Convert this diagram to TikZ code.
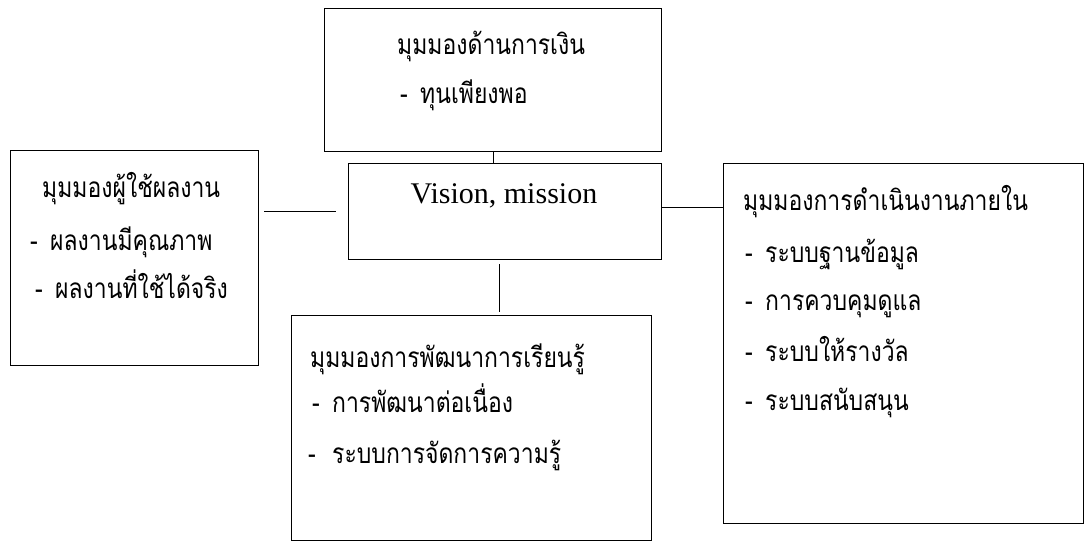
\documentclass[tikz,border=0pt]{standalone}
\usepackage{fontspec}
\setmainfont{Liberation Serif}
\newfontfamily\thaifont[Script=Thai,FakeStretch=0.82]{Loma}
\newcommand\itm[2][20pt]{\makebox[#1][l]{-}#2}
\begin{document}
\begin{tikzpicture}[x=1pt,y=-1pt,
  box/.style={draw, line width=1.3pt, anchor=north west, inner sep=0pt},
  link/.style={line width=1.3pt},
  th/.style={anchor=base west, inner sep=0pt, font=\thaifont\fontsize{28}{28}\selectfont},
  lat/.style={anchor=base, inner sep=0pt, font=\fontsize{30}{30}\selectfont}]
\useasboundingbox (0,0) rectangle (1087,543);
% boxes
\node[box, minimum width=337pt, minimum height=143pt] (fin) at (324,8) {};
\node[box, minimum width=313pt, minimum height=96pt] (vis) at (348,163) {};
\node[box, minimum width=248pt, minimum height=215pt] (cus) at (10,150) {};
\node[box, minimum width=360pt, minimum height=360pt] (int) at (723,163) {};
\node[box, minimum width=360pt, minimum height=225pt] (lrn) at (291,315) {};
% connectors
\draw[link] (fin.south) -- (fin.south |- vis.north);
\draw[link] ([yshift=4pt]vis.east) -- ([yshift=4pt]vis.east -| int.west);
\draw[link] ([xshift=5pt]cus.east |- vis.east) -- ([xshift=-12pt]vis.west);
\draw[link] ([xshift=-6pt,yshift=-4pt]vis.south) -- ([xshift=-6pt,yshift=3pt]vis.south |- lrn.north);
% texts
\node[th] (finT) at (397,55) {มุมมองด้านการเงิน};
\node[th] (finA) at (400,103) {\itm{ทุนเพียงพอ}};
\node[lat] (visT) at (504,203) {Vision, mission};
\node[th] (cusT) at (42,197) {มุมมองผู้ใช้ผลงาน};
\node[th] (cusA) at (30,250) {\itm{ผลงานมีคุณภาพ}};
\node[th] (cusB) at (35,298) {\itm{ผลงานที่ใช้ได้จริง}};
\node[th] (intT) at (743,210) {มุมมองการดำเนินงานภายใน};
\node[th] (intA) at (745,262) {\itm{ระบบฐานข้อมูล}};
\node[th] (intB) at (745,310) {\itm{การควบคุมดูแล}};
\node[th] (intC) at (745,361) {\itm{ระบบให้รางวัล}};
\node[th] (intD) at (745,410) {\itm{ระบบสนับสนุน}};
\node[th] (lrnT) at (310,367) {มุมมองการพัฒนาการเรียนรู้};
\node[th] (lrnA) at (312,412) {\itm{การพัฒนาต่อเนื่อง}};
\node[th] (lrnB) at (308,463) {\itm[24pt]{ระบบการจัดการความรู้}};
\end{tikzpicture}
\end{document}
